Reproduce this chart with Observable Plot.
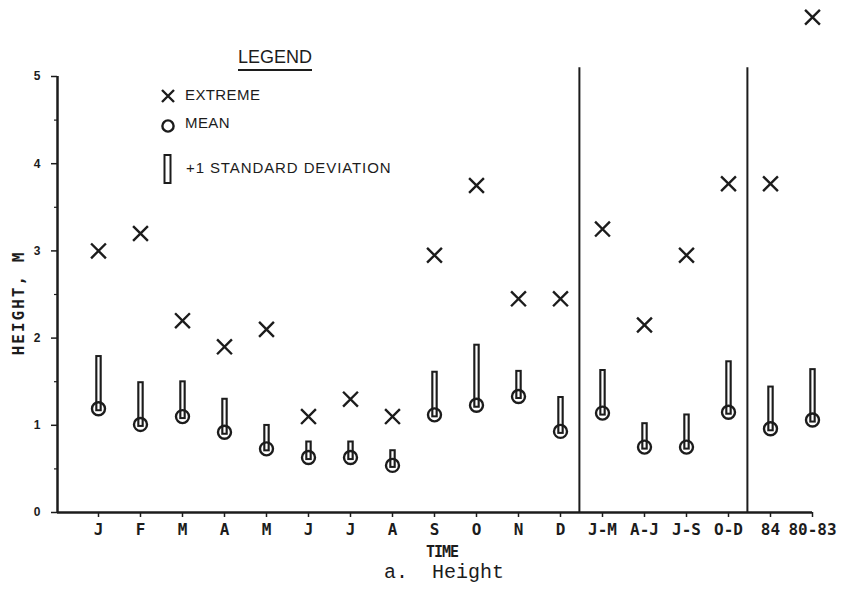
<!DOCTYPE html>
<html>
<head>
<meta charset="utf-8">
<script src="https://cdn.jsdelivr.net/npm/d3@7"></script>
<script src="https://cdn.jsdelivr.net/npm/@observablehq/plot@0.6"></script>
<style>
  html, body { margin: 0; padding: 0; background: #fff; }
  #wrap { position: relative; width: 847px; height: 590px; overflow: hidden; background: #fff; }
  #chart { position: absolute; left: 0; top: 0; }
  .ann { position: absolute; color: #1c1c1c; white-space: pre; line-height: 1; }
</style>
</head>
<body>
<div id="wrap">
  <div id="chart"></div>

  <div class="ann" style="left:238px;top:47px;font-family:'Liberation Sans',Arial,sans-serif;font-size:18px;line-height:20px;border-bottom:2px solid #1c1c1c;padding-bottom:2px;">LEGEND</div>
  <svg style="position:absolute;left:150px;top:80px;" width="40" height="110">
    <path d="M12,10L24,22M24,10L12,22" stroke="#1c1c1c" stroke-width="2.4" fill="none"/>
    <circle cx="18" cy="46" r="5.6" stroke="#1c1c1c" stroke-width="2.4" fill="none"/>
    <rect x="14.5" y="75" width="6" height="28" stroke="#1c1c1c" stroke-width="2" fill="#fff"/>
  </svg>
  <div class="ann" style="left:185px;top:87px;font-family:'Liberation Sans',Arial,sans-serif;font-size:15px;letter-spacing:0.4px;">EXTREME</div>
  <div class="ann" style="left:185px;top:115px;font-family:'Liberation Sans',Arial,sans-serif;font-size:15px;letter-spacing:0.4px;">MEAN</div>
  <div class="ann" style="left:186px;top:160px;font-family:'Liberation Sans',Arial,sans-serif;font-size:15px;letter-spacing:0.9px;">+1 STANDARD DEVIATION</div>

  <div class="ann" style="left:19px;top:303px;transform:translate(-50%,-50%) rotate(-90deg);font-family:'DejaVu Sans Mono',monospace;font-weight:bold;font-size:16px;letter-spacing:2px;">HEIGHT, M</div>
  <div class="ann" style="left:442px;top:545px;transform:translateX(-50%);font-family:'DejaVu Sans Mono',monospace;font-weight:900;font-size:15px;letter-spacing:-1px;">TIME</div>
  <div class="ann" style="left:384px;top:563px;font-family:'Liberation Mono','Courier New',monospace;font-size:20px;">a.  Height</div>
</div>

<script>
// ---- data ----
const categories = ["J","F","M","A","M","J","J","A","S","O","N","D","J-M","A-J","J-S","O-D","84","80-83"];
const extremeValues = [3.0, 3.2, 2.2, 1.9, 2.1, 1.1, 1.3, 1.1, 2.95, 3.75, 2.45, 2.45, 3.25, 2.15, 2.95, 3.77, 3.77, 5.68];
const meanValues    = [1.19, 1.01, 1.10, 0.92, 0.73, 0.63, 0.63, 0.54, 1.12, 1.23, 1.33, 0.93, 1.14, 0.75, 0.75, 1.15, 0.96, 1.06];
const sdValues      = [0.61, 0.49, 0.41, 0.39, 0.28, 0.19, 0.19, 0.18, 0.50, 0.70, 0.30, 0.40, 0.50, 0.28, 0.38, 0.59, 0.49, 0.59];
const yTicks = [0, 1, 2, 3, 4, 5];
const yMinorTicks = [0.5, 1.5, 2.5, 3.5, 4.5];
const groupBreaks = [11.45, 15.45];   // separators: monthly | seasonal | annual
const xStart = -0.976;                // left end of the x axis (y axis position)

const ink = "#1c1c1c";
const rows = categories.map((c, i) => ({
  i, c,
  extreme: extremeValues[i],
  mean: meanValues[i],
  top: meanValues[i] + sdValues[i]
}));

const chart = Plot.plot({
  width: 847,
  height: 590,
  marginLeft: 57,
  marginRight: 35,
  marginTop: 76,
  marginBottom: 78,
  style: { background: "transparent", color: ink, overflow: "visible" },
  x: { type: "linear", domain: [xStart, categories.length - 1] },
  y: { domain: [0, 5] },
  marks: [
    Plot.axisX({
      ticks: rows.map(d => d.i),
      tickFormat: i => categories[i],
      tickSize: 5,
      tickPadding: 6,
      strokeWidth: 1.5,
      fontFamily: "DejaVu Sans Mono, monospace",
      fontWeight: "bold",
      fontSize: 16,
      label: null
    }),
    Plot.axisY({
      ticks: yTicks,
      tickFormat: d => String(d),
      tickSize: 6,
      tickPadding: 11,
      strokeWidth: 1.5,
      fontFamily: "Liberation Sans, Arial, sans-serif",
      fontWeight: "bold",
      fontSize: 12,
      label: null
    }),
    Plot.axisY({
      ticks: yMinorTicks,
      tickSize: 3,
      strokeWidth: 1.2,
      tickFormat: () => "",
      label: null
    }),
    Plot.ruleY([0], { stroke: ink, strokeWidth: 2.5 }),
    Plot.ruleX([xStart], { y1: 0, y2: 5, stroke: ink, strokeWidth: 2.5 }),
    Plot.ruleX(groupBreaks, { y1: 0, y2: 5.1, stroke: ink, strokeWidth: 2 }),
    // +1 SD bars (outlined): y1 = upper end, y2 = lower end
    Plot.ruleX(rows, { x: "i", y1: "top", y2: "mean", stroke: ink, strokeWidth: 6.5, insetBottom: -3 }),
    Plot.ruleX(rows, { x: "i", y1: "top", y2: "mean", stroke: "#fff", strokeWidth: 2.2, insetTop: 2, insetBottom: -1 }),
    // mean circles
    Plot.dot(rows, { x: "i", y: "mean", r: 6.5, stroke: ink, strokeWidth: 2.4, fill: "none" }),
    // extremes
    Plot.dot(rows, { x: "i", y: "extreme", symbol: "times", r: 6.8, stroke: ink, strokeWidth: 2.4, fill: "none" })
  ]
});

document.getElementById("chart").appendChild(chart);
</script>
</body>
</html>
